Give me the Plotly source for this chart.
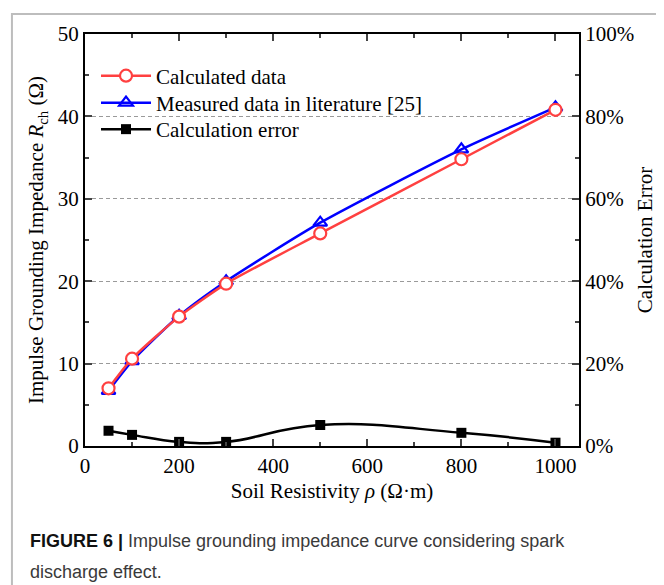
import plotly.graph_objects as go

resistivity = [50, 100, 200, 300, 500, 800, 1000]
calculated = [7.0, 10.6, 15.7, 19.7, 25.8, 34.8, 40.8]
measured = [6.7, 10.3, 15.8, 20.0, 27.1, 36.0, 41.1]
error_pct = [3.7, 2.7, 1.0, 1.0, 5.1, 3.2, 0.8]

left_ticks = [0, 10, 20, 30, 40, 50]
right_ticks = [0, 20, 40, 60, 80, 100]
right_labels = ["0%", "20%", "40%", "60%", "80%", "100%"]
x_ticks = [0, 200, 400, 600, 800, 1000]

# the page has an 8px body margin; work in page pixels and convert
OFF = 8
W, H = 664 - OFF, 585 - OFF
PL, PR, PT, PB = 85, 578.6, 34, 446          # plot box in page pixels
L, T = PL - OFF, PT - OFF
R, B = W - (PR - OFF), H - (PB - OFF)
pw, ph = PR - PL, PB - PT

def px2x(px):
    return (px - PL) / pw

def px2y(py):
    return (PB - py) / ph

serif = "Liberation Serif"

fig = go.Figure()
fig.add_trace(go.Scatter(
    x=resistivity, y=measured, name="Measured data in literature [25]", legend="legend2",
    mode="lines+markers", line=dict(color="#0000FF", width=2.5, shape="spline", smoothing=0.6),
    marker=dict(symbol="triangle-up-open", size=12, color="#0000FF", line=dict(width=2.2)),
))
fig.add_trace(go.Scatter(
    x=resistivity, y=calculated, name="Calculated data", legend="legend",
    mode="lines+markers", line=dict(color="#FF4040", width=2.5, shape="spline", smoothing=0.6),
    marker=dict(symbol="circle", size=12, color="white", line=dict(color="#FF4040", width=2.2)),
))
fig.add_trace(go.Scatter(
    x=resistivity, y=error_pct, name="Calculation error", yaxis="y2", legend="legend3",
    mode="lines+markers", line=dict(color="black", width=2.5, shape="spline", smoothing=1.3),
    marker=dict(symbol="square", size=10, color="black"),
))

def leg(yc):
    return dict(x=px2x(96), y=px2y(yc), xanchor="left", yanchor="middle",
                bgcolor="rgba(0,0,0,0)", font=dict(family=serif, size=21),
                itemwidth=50, borderwidth=0)

fig.update_layout(
    width=W, height=H,
    margin=dict(l=L, r=R, t=T, b=B, pad=0),
    paper_bgcolor="white", plot_bgcolor="white",
    font=dict(family=serif, size=21, color="black"),
    showlegend=True,
    legend=leg(76), legend2=leg(103), legend3=leg(129.5),
    xaxis=dict(
        range=[0, 1050], tickvals=x_ticks, ticks="inside", ticklen=7, tickwidth=1.5,
        showline=True, linecolor="black", linewidth=2, mirror="ticks",
        showgrid=False, zeroline=False,
        minor=dict(ticks="inside", ticklen=4, tickwidth=1.5, dtick=100, tick0=0),
        title=dict(text="Soil Resistivity <i>ρ</i> (Ω·m)", font=dict(family=serif, size=21), standoff=6),
        tickfont=dict(family=serif, size=21),
    ),
    yaxis=dict(
        range=[0, 50], tickvals=left_ticks, ticks="inside", ticklen=7, tickwidth=1.5,
        showline=True, linecolor="black", linewidth=2,
        showgrid=True, gridcolor="#9a9a9a", griddash="4px,3px", gridwidth=1, zeroline=False,
        minor=dict(ticks="inside", ticklen=4, tickwidth=1.5, dtick=5, tick0=0),
        title=dict(text="Impulse Grounding Impedance <i>R</i><sub>ch</sub> (Ω)", font=dict(family=serif, size=21), standoff=8),
        tickfont=dict(family=serif, size=21),
    ),
    yaxis2=dict(
        overlaying="y", side="right", range=[0, 100], tickvals=right_ticks, ticktext=right_labels,
        ticks="inside", ticklen=7, tickwidth=1.5,
        showline=True, linecolor="black", linewidth=2,
        showgrid=False, zeroline=False,
        minor=dict(ticks="inside", ticklen=4, tickwidth=1.5, dtick=10, tick0=0),
        title=dict(text="Calculation Error", font=dict(family=serif, size=21), standoff=4),
        tickfont=dict(family=serif, size=21),
    ),
)

# outer frame
fig.add_shape(type="rect", xref="paper", yref="paper",
              x0=px2x(12), x1=px2x(720), y0=px2y(660), y1=px2y(14),
              line=dict(color="#bdbdbd", width=2), layer="below")

fig.add_annotation(
    xref="paper", yref="paper", x=px2x(28), y=px2y(541), xanchor="left", yanchor="middle",
    showarrow=False, align="left",
    text="<b><span style='color:#111'>FIGURE 6 |</span></b> Impulse grounding impedance curve considering spark",
    font=dict(family="Liberation Sans", size=18, color="#3a3a3a"),
)
fig.add_annotation(
    xref="paper", yref="paper", x=px2x(28), y=px2y(572), xanchor="left", yanchor="middle",
    showarrow=False, align="left",
    text="discharge effect.",
    font=dict(family="Liberation Sans", size=18, color="#3a3a3a"),
)

fig.write_html("out.html")
